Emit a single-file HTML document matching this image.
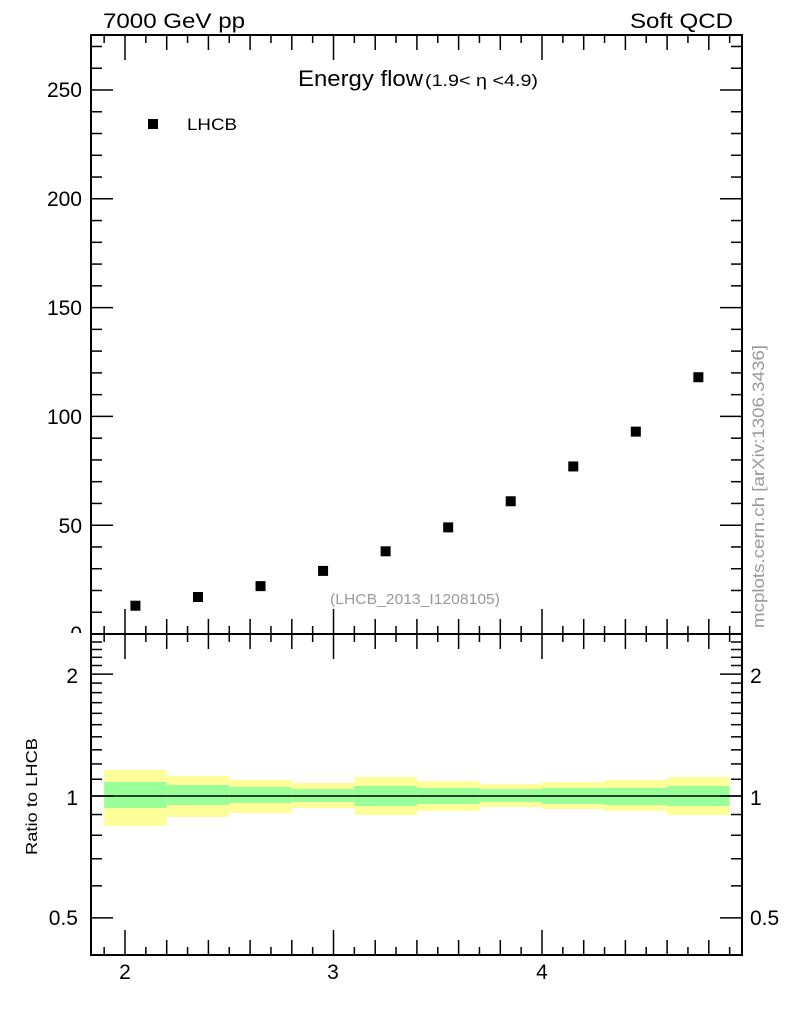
<!DOCTYPE html>
<html><head><meta charset="utf-8"><style>
body{margin:0;background:#fff}
svg{display:block}
text{font-family:"Liberation Sans",sans-serif}
</style></head><body>
<svg id="s" width="786" height="1024" xmlns="http://www.w3.org/2000/svg">
<defs><clipPath id="c0"><rect x="0" y="0" width="90" height="633"/></clipPath></defs>
<g id="bands"></g>
<line x1="91" y1="796" x2="742" y2="796" stroke="#000" stroke-width="1.5"/>
<g id="ticks" stroke="#000" stroke-width="1.5"></g>
<g id="pts"></g>
<rect x="91" y="35" width="651" height="920" fill="none" stroke="#000" stroke-width="2"/>
<line x1="91" y1="634" x2="742" y2="634" stroke="#000" stroke-width="2"/>
<text x="103" y="28" font-size="21" textLength="142" lengthAdjust="spacingAndGlyphs">7000 GeV pp</text>
<text x="630" y="28" font-size="21" textLength="103" lengthAdjust="spacingAndGlyphs">Soft QCD</text>
<text x="298" y="86" font-size="22" textLength="125" lengthAdjust="spacingAndGlyphs">Energy flow</text>
<text x="425" y="86" font-size="17" textLength="113" lengthAdjust="spacingAndGlyphs">(1.9&lt; η &lt;4.9)</text>
<rect x="148" y="119" width="10" height="10" fill="#000"/>
<text x="187" y="130" font-size="17" textLength="50" lengthAdjust="spacingAndGlyphs">LHCB</text>
<text x="330" y="604" font-size="15" fill="#999" textLength="170" lengthAdjust="spacingAndGlyphs">(LHCB_2013_I1208105)</text>
<text transform="translate(764,628) rotate(-90)" font-size="17" fill="#999" textLength="283" lengthAdjust="spacingAndGlyphs">mcplots.cern.ch [arXiv:1306.3436]</text>
<text transform="translate(37,855) rotate(-90)" font-size="16" textLength="117" lengthAdjust="spacingAndGlyphs">Ratio to LHCB</text>
<g font-size="21" text-anchor="end">
<text x="82" y="97">250</text><text x="82" y="206">200</text><text x="82" y="315">150</text>
<text x="82" y="424">100</text><text x="82" y="533">50</text><text x="82" y="641" clip-path="url(#c0)">0</text>
<text x="78" y="683">2</text><text x="78" y="805">1</text><text x="78" y="925">0.5</text>
</g>
<g font-size="21">
<text x="750" y="683">2</text><text x="750" y="805">1</text><text x="750" y="925">0.5</text>
</g>
<g font-size="21" text-anchor="middle">
<text x="125" y="979">2</text><text x="333" y="979">3</text><text x="542" y="979">4</text>
</g>
</svg>
<script>
const NS="http://www.w3.org/2000/svg";
function el(p,t,a){const e=document.createElementNS(NS,t);for(const k in a)e.setAttribute(k,a[k]);document.getElementById(p).appendChild(e);}
const X=v=>125+(v-2)*208.5;
const edges=[1.9,2.2,2.5,2.8,3.1,3.4,3.7,4.0,4.3,4.6,4.9];
const yb=[[770,826],[776,817],[780,813],[783,808],[777,815],[781,811],[784,807],[782,809],[780,811],[777,815]];
const gb=[[782,808],[785,805],[787,803],[789,802],[786,806],[788,804],[789,802],[788,804],[788,805],[786,806]];
for(let i=0;i<10;i++){const x1=X(edges[i]),x2=X(edges[i+1]);
el("bands","rect",{x:x1,y:yb[i][0],width:x2-x1,height:yb[i][1]-yb[i][0],fill:"#ffff99"});
el("bands","rect",{x:x1,y:gb[i][0],width:x2-x1,height:gb[i][1]-gb[i][0],fill:"#99ff99"});}
const vals=[13,17,22,29,38,49,61,77,93,118];
for(let i=0;i<10;i++){const x=X(2.05+0.3*i),y=634-vals[i]*2.176;el("pts","rect",{x:x-5,y:y-5,width:10,height:10,fill:"#000"});}
for(let v=0;v<=270;v+=10){const y=634-v*2.176;if(y<36)continue;const L=v%50==0?22:11;
el("ticks","line",{x1:91,y1:y,x2:91+L,y2:y});el("ticks","line",{x1:742,y1:y,x2:742-L,y2:y});}
for(let k=19;k<=49;k++){const v=k/10,x=X(v);if(x<92||x>741)continue;const L=k%10==0?25:(k%2==0?15:8);
for(const yb0 of [35,634]){el("ticks","line",{x1:x,y1:yb0,x2:x,y2:yb0+L});}
for(const yb0 of [634,955]){el("ticks","line",{x1:x,y1:yb0,x2:x,y2:yb0-L});}}
const RY=r=>796-Math.log10(r)*405;
const rv=[0.5,0.6,0.7,0.8,0.9,1,1.1,1.2,1.3,1.4,1.5,1.6,1.7,1.8,1.9,2,2.1,2.2,2.3,2.4,2.5];
for(const r of rv){const y=RY(r);if(y<636||y>954)continue;const L=(r==0.5||r==1||r==2)?22:11;
el("ticks","line",{x1:91,y1:y,x2:91+L,y2:y});el("ticks","line",{x1:742,y1:y,x2:742-L,y2:y});}
</script>
</body></html>
